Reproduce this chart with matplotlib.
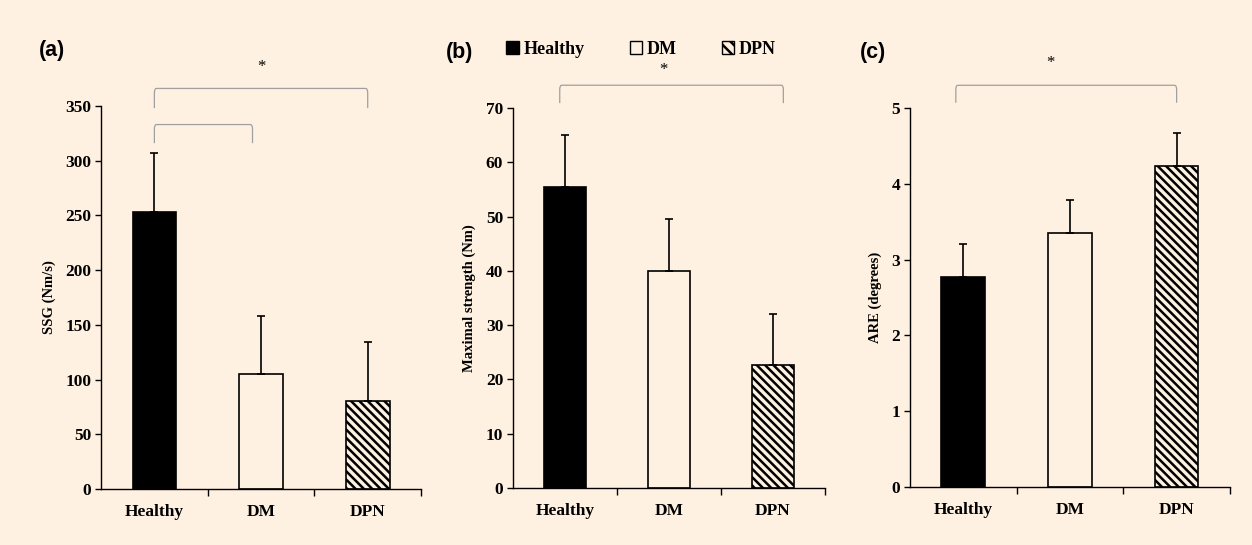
import matplotlib
matplotlib.use("Agg")
import matplotlib.pyplot as plt
from matplotlib.patches import Patch
from matplotlib.path import Path
from matplotlib.patches import PathPatch

# ============================================================================ #
# data

groups = ["Healthy", "DM", "DPN"]

ssg     = [253, 105, 80]
ssg_sd  = [54, 53, 54]

strength    = [55.5, 40.0, 22.7]
strength_sd = [9.5, 9.5, 9.3]

are    = [2.77, 3.35, 4.23]
are_sd = [0.43, 0.43, 0.44]

bg = "#FEF1E1"
serif = "Liberation Serif"
plt.rcParams["hatch.linewidth"] = 1.8

fills   = ["black", bg, bg]
hatches = [None, None, "\\\\\\\\"]

fig = plt.figure(figsize=(12.52, 5.45), dpi=100, facecolor=bg)

def panel(rect, vals, sds, ylim, step, ylabel, tag, tagpos) :
    ax = fig.add_axes(rect, facecolor=bg)
    x = range(len(groups))
    for i in x :
        ax.bar(i, vals[i], width=0.41, color=fills[i], edgecolor="black",
               linewidth=1.2, hatch=hatches[i], zorder=2)
    ax.errorbar(list(x), vals, yerr=[[0]*3, sds], fmt="none", ecolor="black",
                elinewidth=1.2, capsize=2.8, capthick=1.2, zorder=3)
    ax.set_xlim(-0.5, 2.5)
    ax.set_ylim(0, ylim)
    ax.set_yticks([v * step for v in range(int(ylim / step) + 1)])
    ax.set_xticks(list(x))
    ax.set_xticklabels(groups)
    ax.set_xticks([0.5, 1.5, 2.5], minor=True)
    ax.tick_params(axis="x", which="major", length=0, pad=11)
    ax.tick_params(axis="x", which="minor", length=5, direction="out", width=1)
    ax.tick_params(axis="y", length=4, direction="out", width=1, pad=3)
    for lab in ax.get_xticklabels() + ax.get_yticklabels() :
        lab.set_fontfamily(serif)
        lab.set_fontweight("bold")
        lab.set_fontsize(12.5)
    for s in ("top", "right") :
        ax.spines[s].set_visible(False)
    for s in ("left", "bottom") :
        ax.spines[s].set_linewidth(1)
    ax.set_ylabel(ylabel, family=serif, fontweight="bold", fontsize=10.5, labelpad=7)
    fig.text(tagpos[0], tagpos[1], tag, family="Liberation Sans",
             fontweight="bold", fontsize=15.5, ha="left", va="center")
    return ax

def bracket(ax, x0, x1, top, bottom) :
    r = 0.02
    ry = (top - bottom) * 0.25
    verts = [(x0, bottom), (x0, top - ry), (x0, top), (x0 + r, top),
             (x1 - r, top), (x1, top), (x1, top - ry), (x1, bottom)]
    codes = [Path.MOVETO, Path.LINETO, Path.CURVE3, Path.CURVE3,
             Path.LINETO, Path.CURVE3, Path.CURVE3, Path.LINETO]
    ax.add_patch(PathPatch(Path(verts, codes), facecolor="none",
                           edgecolor="#a0a0a0", linewidth=0.9,
                           clip_on=False, zorder=1))

def star(ax, x, y) :
    ax.text(x, y, "*", family=serif, fontsize=12, ha="center", va="center",
            clip_on=False)

# ============================================================================ #
# (a)

axA = panel([0.0807, 0.1028, 0.2556, 0.7028], ssg, ssg_sd, 350, 50,
            "SSG (Nm/s)", "(a)", (0.031, 0.908))
bracket(axA, 0.0, 2.0, 366, 348)
bracket(axA, 0.0, 0.92, 333, 316)
star(axA, 1.0, 386)

# ============================================================================ #
# (b)

axB = panel([0.4097, 0.1046, 0.2492, 0.6972], strength, strength_sd, 70, 10,
            "Maximal strength (Nm)", "(b)", (0.356, 0.903))
bracket(axB, -0.05, 2.1, 74.2, 70.9)
star(axB, 0.95, 77.0)

# ============================================================================ #
# (c)

axC = panel([0.7268, 0.1064, 0.2556, 0.6954], are, are_sd, 5, 1,
            "ARE (degrees)", "(c)", (0.687, 0.903))
bracket(axC, -0.07, 2.0, 5.30, 5.07)
star(axC, 0.82, 5.60)

# legend

handles = [Patch(facecolor=fills[i], edgecolor="black",
                 hatch="\\\\\\" if hatches[i] else None, linewidth=1)
           for i in range(3)]
fig.legend(handles, groups, loc="center", bbox_to_anchor=(0.512, 0.909),
           ncol=3, frameon=False, handlelength=0.7, handleheight=0.7,
           handletextpad=0.25, columnspacing=2.5,
           prop={"family": serif, "weight": "bold", "size": 13})

fig.savefig("out.png", dpi=100, facecolor=bg)
